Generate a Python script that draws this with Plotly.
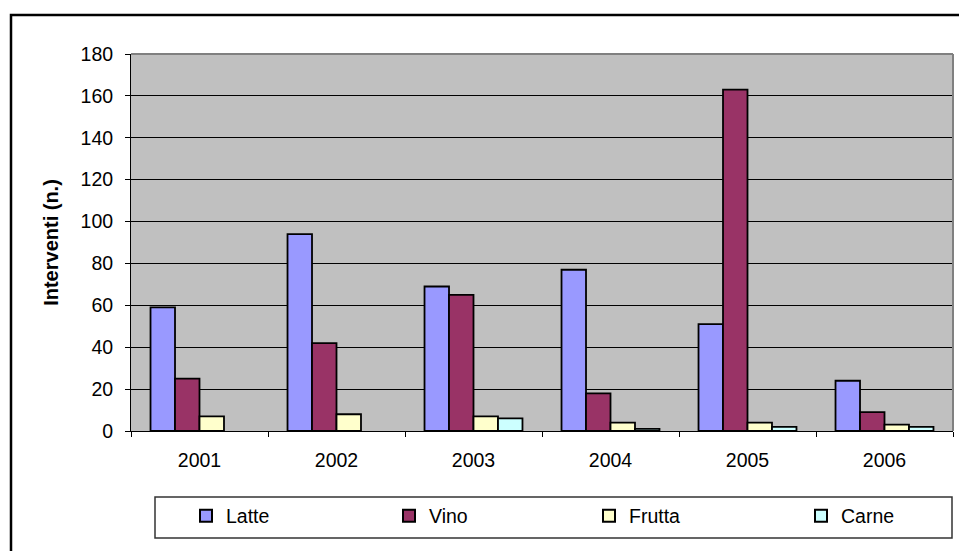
import plotly.graph_objects as go

years = ["2001", "2002", "2003", "2004", "2005", "2006"]
latte = [59, 94, 69, 77, 51, 24]
vino = [25, 42, 65, 18, 163, 9]
frutta = [7, 8, 7, 4, 4, 3]
carne = [None, None, 6, 1, 2, 2]

series = [
    ("Latte", latte, "#9999FF"),
    ("Vino", vino, "#993366"),
    ("Frutta", frutta, "#FFFFCC"),
    ("Carne", carne, "#CCFFFF"),
]

W, H = 959, 551
L, R, T, B = 131, 6, 54, 120
pw, ph = W - L - R, H - T - B


def px(x):
    return (x - L) / pw


def py(y):
    return (H - B - y) / ph


legend_x = [206, 409, 609, 821]
legend_names = ["legend", "legend2", "legend3", "legend4"]

fig = go.Figure()
for (name, vals, col), lg in zip(series, legend_names):
    fig.add_trace(go.Bar(
        x=years, y=vals, name=name, legend=lg,
        marker=dict(color=col, line=dict(color="black", width=1.8)),
    ))

FS = 19.5
layout_legends = {}
for lg, cx in zip(legend_names, legend_x):
    layout_legends[lg] = dict(
        x=px(cx - 20), xanchor="left",
        y=py(516), yanchor="middle",
        bgcolor="rgba(0,0,0,0)", borderwidth=0,
        font=dict(size=FS),
        itemsizing="constant",
        tracegroupgap=0,
    )

fig.update_layout(
    width=W, height=H,
    margin=dict(l=L, r=R, t=T, b=B),
    paper_bgcolor="white",
    plot_bgcolor="#C0C0C0",
    barmode="group",
    bargap=0.285,
    bargroupgap=0,
    font=dict(family="Liberation Sans, Arial", size=FS, color="black"),
    showlegend=True,
    xaxis=dict(
        type="category",
        showline=True, linecolor="black", linewidth=1,
        ticks="outside", tickson="boundaries", ticklen=5, tickcolor="black",
        showgrid=False,
        tickfont=dict(size=FS),
        ticklabelstandoff=12,
    ),
    yaxis=dict(
        range=[0, 180], dtick=20,
        showline=True, linecolor="black", linewidth=1,
        ticks="outside", ticklen=5, tickcolor="black",
        showgrid=True, gridcolor="black", gridwidth=1,
        zeroline=False,
        tickfont=dict(size=FS),
        ticklabelstandoff=8,
        title=dict(text="<b>Interventi (n.)</b>", font=dict(size=20), standoff=16),
    ),
    shapes=[
        dict(type="rect", xref="paper", yref="paper",
             x0=px(11), x1=px(964), y0=py(560), y1=py(15),
             line=dict(color="black", width=2.5), fillcolor="rgba(0,0,0,0)", layer="below"),
        dict(type="rect", xref="paper", yref="paper",
             x0=px(155), x1=px(952), y0=py(538), y1=py(497),
             line=dict(color="#333333", width=1.5), fillcolor="rgba(0,0,0,0)"),
        dict(type="line", xref="paper", yref="paper",
             x0=1, x1=1, y0=0, y1=1,
             line=dict(color="#808080", width=2)),
        dict(type="line", xref="paper", yref="paper",
             x0=0, x1=1, y0=1, y1=1,
             line=dict(color="#808080", width=2)),
    ],
    **layout_legends,
)

fig.write_html("out.html", config={"displayModeBar": False},
               post_script="document.body.style.margin='0';document.body.style.padding='0';")
